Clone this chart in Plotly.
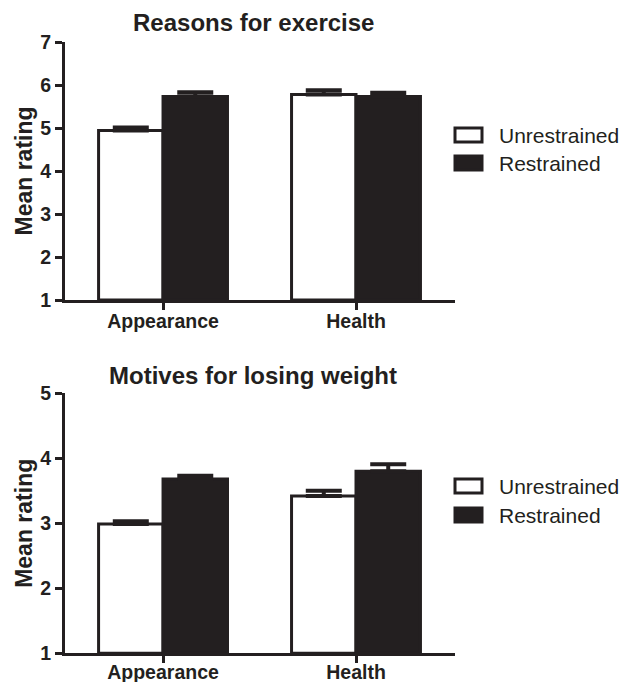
import plotly.graph_objects as go

categories = ["Appearance", "Health"]
groups = ["Unrestrained", "Restrained"]

exercise_unrestrained = [4.94, 5.78]
exercise_restrained = [5.73, 5.73]
exercise_unrestrained_err = [0.07, 0.10]
exercise_restrained_err = [0.10, 0.09]

weight_unrestrained = [2.99, 3.42]
weight_restrained = [3.68, 3.80]
weight_unrestrained_err = [0.04, 0.08]
weight_restrained_err = [0.05, 0.11]

exercise_ticks = [1, 2, 3, 4, 5, 6, 7]
weight_ticks = [1, 2, 3, 4, 5]

INK = "#231f20"
W, H = 632, 682
OFF = 8  # page body margin offset
FONT = "Liberation Sans, Arial, sans-serif"

def px_x(p):
    return (p - OFF) / W

def px_y(p):
    return 1 - (p - OFF) / H

fig = go.Figure()

def add_pair(vals_u, err_u, vals_r, err_r, xa, ya):
    zeros = [0] * len(categories)
    fig.add_trace(go.Bar(
        x=categories, y=[v - 1 for v in vals_u], base=1, name=groups[0],
        marker=dict(color="white", line=dict(color=INK, width=3)),
        error_y=dict(type="data", array=err_u, arrayminus=zeros, symmetric=False,
                     color=INK, thickness=4, width=18),
        xaxis=xa, yaxis=ya, showlegend=False, offsetgroup="u"))
    fig.add_trace(go.Bar(
        x=categories, y=[v - 1 for v in vals_r], base=1, name=groups[1],
        marker=dict(color=INK, line=dict(color=INK, width=3)),
        error_y=dict(type="data", array=err_r, arrayminus=zeros, symmetric=False,
                     color=INK, thickness=4, width=18),
        xaxis=xa, yaxis=ya, showlegend=False, offsetgroup="r"))

add_pair(exercise_unrestrained, exercise_unrestrained_err,
         exercise_restrained, exercise_restrained_err, "x", "y")
add_pair(weight_unrestrained, weight_unrestrained_err,
         weight_restrained, weight_restrained_err, "x2", "y2")

xdom = [px_x(65), px_x(455)]
xcommon = dict(range=[-0.508, 1.513], showgrid=False, zeroline=False,
               showline=True, linecolor=INK, linewidth=3, automargin=False,
               ticks="outside", ticklen=7, tickwidth=3, tickcolor=INK,
               tickfont=dict(family=FONT, size=19.5, color=INK, weight="bold"),
               domain=xdom, fixedrange=True)
ycommon = dict(showgrid=False, zeroline=False, showline=True, linecolor=INK,
               linewidth=3, ticks="outside", ticklen=7, tickwidth=3, tickcolor=INK,
               automargin=False, fixedrange=True,
               tickfont=dict(family=FONT, size=19.5, color=INK, weight="bold"),
               title=dict(text="Mean rating", standoff=2,
                          font=dict(family=FONT, size=23, color=INK, weight="bold")))

fig.update_layout(
    width=W, height=H,
    margin=dict(l=0, r=0, t=0, b=0, autoexpand=False),
    paper_bgcolor="white", plot_bgcolor="white",
    barmode="group", bargap=0.332, bargroupgap=0,
    xaxis=dict(**xcommon, anchor="y", ticklabelstandoff=-5),
    yaxis=dict(**ycommon, range=[1, 7], tickvals=exercise_ticks,
               domain=[px_y(300), px_y(42)], anchor="x"),
    xaxis2=dict(**xcommon, anchor="y2", ticklabelstandoff=-8),
    yaxis2=dict(**ycommon, range=[1, 5], tickvals=weight_ticks,
                domain=[px_y(653.3), px_y(393.3)], anchor="x2"),
    showlegend=False,
)

titles = [("Reasons for exercise", 23), ("Motives for losing weight", 375)]
annotations = []
for t, yy in titles:
    annotations.append(dict(text=t, x=px_x(253), y=px_y(yy), xref="paper", yref="paper",
                            xanchor="center", yanchor="middle", showarrow=False,
                            font=dict(family=FONT, size=24, color=INK, weight="bold")))

shapes = []
legend_rows = [(135, 163), (486, 515)]
for yu, yr in legend_rows:
    for yc, name, fill in [(yu, groups[0], "white"), (yr, groups[1], INK)]:
        shapes.append(dict(type="rect", xref="paper", yref="paper",
                           x0=px_x(455), x1=px_x(482), y0=px_y(yc + 7), y1=px_y(yc - 7),
                           fillcolor=fill, line=dict(color=INK, width=3)))
        annotations.append(dict(text=name, x=px_x(497), y=px_y(yc), xref="paper", yref="paper",
                                xanchor="left", yanchor="middle", showarrow=False,
                                font=dict(family=FONT, size=21, color=INK)))

fig.update_layout(annotations=annotations, shapes=shapes)

fig.write_html("out.html")
